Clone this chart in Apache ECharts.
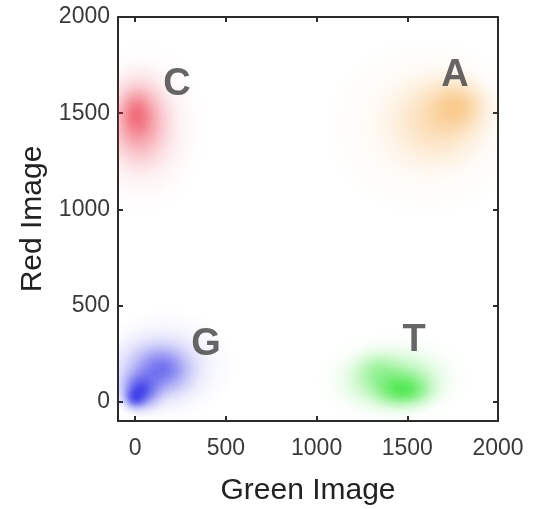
<!DOCTYPE html>
<html>
<head>
<meta charset="utf-8">
<script src="https://cdn.jsdelivr.net/npm/echarts@6/dist/echarts.min.js"></script>
<style>
  html, body { margin: 0; padding: 0; background: #ffffff; }
  #chart { width: 539px; height: 509px; }
</style>
</head>
<body>
<div id="chart"></div>
<script>
// axis ticks
const xTicks = [0, 500, 1000, 1500, 2000];
const yTicks = [0, 500, 1000, 1500, 2000];

// base call labels (data coords)
const baseNames = ['C', 'A', 'G', 'T'];
const baseX = [230, 1763, 390, 1537];
const baseY = [1650, 1695, 300, 320];

// intensity clouds: [green, red, spreadGreen, spreadRed, density]
const cCloud = [
  [40, 1420, 720, 900, 0.22],
  [15, 1470, 460, 620, 0.45],
  [5, 1500, 250, 340, 0.3]
];
const aCloud = [
  [1600, 1430, 1150, 960, 0.15],
  [1690, 1480, 780, 680, 0.3],
  [1780, 1540, 480, 400, 0.38]
];
const gCloud = [
  [165, 190, 800, 600, 0.2],
  [100, 150, 650, 480, 0.28],
  [150, 170, 420, 330, 0.35],
  [30, 60, 330, 300, 0.72],
  [0, 20, 180, 160, 0.55]
];
const tCloud = [
  [1420, 120, 880, 500, 0.28],
  [1430, 100, 700, 380, 0.3],
  [1330, 170, 380, 280, 0.18],
  [1480, 60, 460, 260, 0.6]
];

const FONT = '"Liberation Sans", Arial, sans-serif';
const AXIS = '#2b2b2b';
const FALLOFF = [[0, 1], [0.2, 0.85], [0.4, 0.55], [0.6, 0.25], [0.8, 0.07], [1, 0]];

function cloudSeries(data, rgb) {
  return {
    type: 'custom',
    clip: true,
    silent: true,
    data: data,
    renderItem: function (params, api) {
      const c = api.coord([api.value(0), api.value(1)]);
      const s = api.size([api.value(2), api.value(3)]);
      const a = api.value(4);
      return {
        type: 'circle',
        x: c[0],
        y: c[1],
        scaleY: s[1] / s[0],
        shape: { cx: 0, cy: 0, r: s[0] / 2 },
        style: {
          fill: new echarts.graphic.RadialGradient(0.5, 0.5, 0.5,
            FALLOFF.map(([o, k]) => ({ offset: o, color: 'rgba(' + rgb + ',' + (a * k).toFixed(3) + ')' })))
        }
      };
    }
  };
}

const tickStyle = { inside: true, length: 5, lineStyle: { color: AXIS, width: 2 } };
const lineStyle = { show: true, onZero: false, lineStyle: { color: AXIS, width: 2 } };
const plain = (v) => String(v);

const option = {
  backgroundColor: '#ffffff',
  animation: false,
  grid: { left: 118, right: 41, top: 17, bottom: 88, containLabel: false, outerBoundsMode: 'none' },
  xAxis: [
    {
      type: 'value', min: -95, max: 2000, position: 'bottom',
      name: 'Green Image', nameLocation: 'middle', nameGap: 55,
      nameTextStyle: { fontFamily: FONT, fontSize: 30, color: '#222' },
      axisLine: lineStyle,
      axisTick: Object.assign({ customValues: xTicks }, tickStyle),
      axisLabel: { customValues: xTicks, formatter: plain, margin: 16, fontFamily: FONT, fontSize: 23, color: '#3a3a3a' },
      splitLine: { show: false }
    },
    {
      type: 'value', min: -95, max: 2000, position: 'top',
      axisLine: lineStyle,
      axisTick: Object.assign({ customValues: xTicks }, tickStyle),
      axisLabel: { show: false },
      splitLine: { show: false }
    }
  ],
  yAxis: [
    {
      type: 'value', min: -100, max: 2000, position: 'left',
      name: 'Red Image', nameLocation: 'middle', nameGap: 58,
      nameTextStyle: { fontFamily: FONT, fontSize: 30, color: '#222' },
      axisLine: lineStyle,
      axisTick: Object.assign({ customValues: yTicks }, tickStyle),
      axisLabel: { customValues: yTicks, formatter: plain, margin: 8, fontFamily: FONT, fontSize: 23, color: '#3a3a3a' },
      splitLine: { show: false }
    },
    {
      type: 'value', min: -100, max: 2000, position: 'right',
      axisLine: lineStyle,
      axisTick: Object.assign({ customValues: yTicks }, tickStyle),
      axisLabel: { show: false },
      splitLine: { show: false }
    }
  ],
  series: [
    cloudSeries(cCloud, '235,40,60'),
    cloudSeries(aCloud, '245,160,50'),
    cloudSeries(tCloud, '30,225,30'),
    cloudSeries(gCloud, '20,20,230'),
    {
      type: 'scatter',
      silent: true,
      symbolSize: 1,
      itemStyle: { color: 'rgba(0,0,0,0)' },
      data: baseNames.map((n, i) => ({ name: n, value: [baseX[i], baseY[i]] })),
      label: {
        show: true,
        position: 'inside',
        formatter: '{b}',
        fontFamily: FONT,
        fontWeight: 'bold',
        fontSize: 38,
        color: '#404040'
      }
    }
  ]
};

const chart = echarts.init(document.getElementById('chart'), null, { renderer: 'canvas' });
chart.setOption(option);
</script>
</body>
</html>
